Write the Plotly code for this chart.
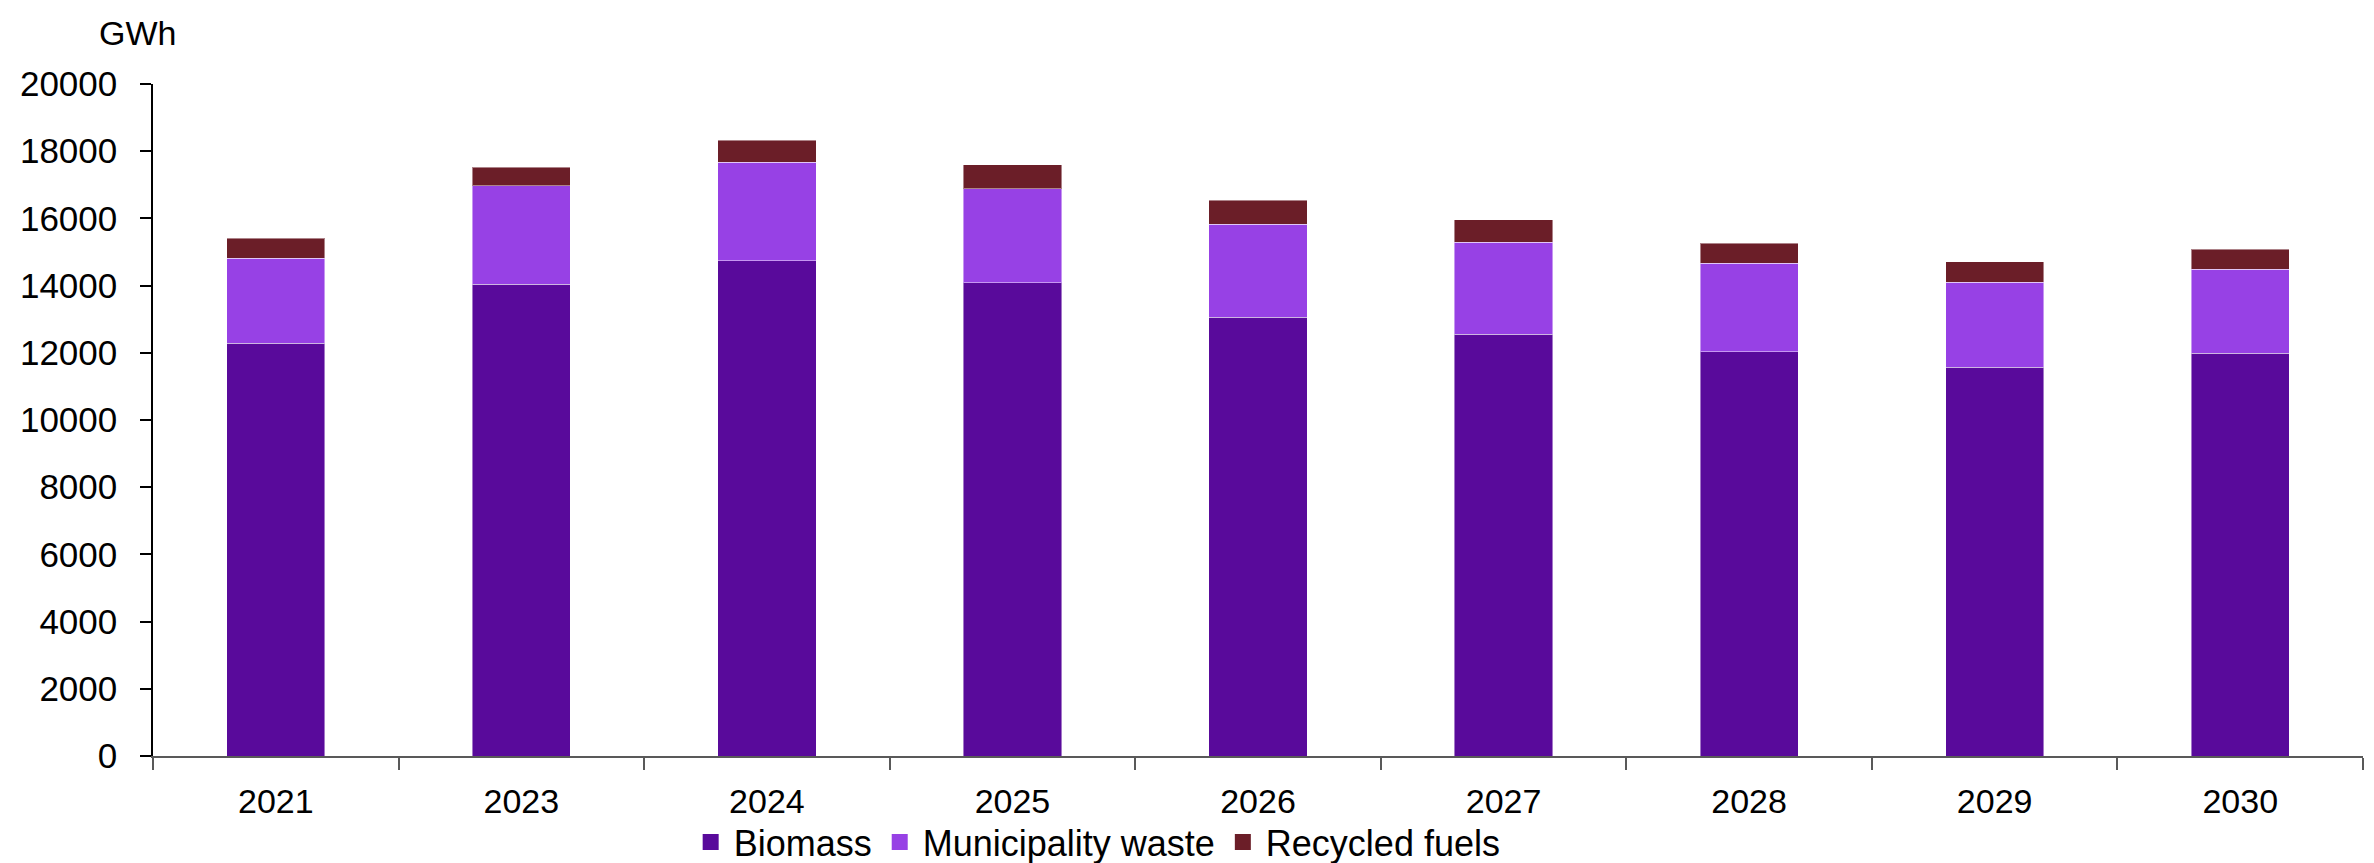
import plotly.graph_objects as go

years = ["2021", "2023", "2024", "2025", "2026", "2027", "2028", "2029", "2030"]
biomass = [12280, 14040, 14740, 14080, 13065, 12550, 12030, 11565, 11990]
municipality_waste = [2530, 2925, 2930, 2800, 2760, 2740, 2630, 2540, 2500]
recycled_fuels = [600, 557, 655, 724, 715, 665, 596, 605, 595]
y_ticks = [0, 2000, 4000, 6000, 8000, 10000, 12000, 14000, 16000, 18000, 20000]

FONT = "Liberation Sans, Arial, sans-serif"
series = [
    ("Biomass", biomass, "#590a9b"),
    ("Municipality waste", municipality_waste, "#9741e5"),
    ("Recycled fuels", recycled_fuels, "#6b1e28"),
]
fig = go.Figure()
for name, vals, col in series:
    fig.add_trace(go.Bar(x=years, y=vals, name=name, showlegend=False, legendgroup=name,
                         marker=dict(color=col, line=dict(color="rgba(255,255,255,0.45)", width=1))))
# legend entries with larger square swatches
for name, vals, col in series:
    fig.add_trace(go.Scatter(x=[None], y=[None], mode="markers", name=name, legendgroup=name,
                             marker=dict(symbol="square", size=16, color=col)))

fig.update_layout(
    barmode="stack",
    bargap=0.6,
    width=2374, height=863,
    margin=dict(l=153, r=11, t=84, b=107, autoexpand=False),
    paper_bgcolor="white", plot_bgcolor="white",
    font=dict(family=FONT, size=34, color="black"),
    showlegend=True,
    legend=dict(orientation="h", x=0.427, xanchor="center",
                yref="container", y=1 - 842 / 863, yanchor="middle",
                bgcolor="rgba(0,0,0,0)",
                font=dict(family=FONT, size=36, color="black"), traceorder="normal",
                itemwidth=36, tracegroupgap=0),
    annotations=[dict(text="GWh", x=(137 - 153) / 2210, y=(756 - 33) / 672,
                      xref="paper", yref="paper", showarrow=False,
                      xanchor="center", yanchor="middle",
                      font=dict(family=FONT, size=34, color="black"))],
)

fig.update_xaxes(
    type="category",
    showline=True, linecolor="#595959", linewidth=2,
    ticks="outside", tickson="boundaries", ticklen=12, tickcolor="#595959", tickwidth=2,
    ticklabelstandoff=14,
    showgrid=False, zeroline=False,
    tickfont=dict(family=FONT, size=34, color="black"),
)
fig.update_yaxes(
    range=[0, 20000], tickvals=y_ticks, tickformat="d",
    showline=True, linecolor="black", linewidth=1.5,
    ticks="outside", ticklen=11, tickcolor="black", tickwidth=1.5,
    ticklabelstandoff=16,
    showgrid=False, zeroline=False,
    tickfont=dict(family=FONT, size=35, color="black"),
)

fig.write_html("out.html")
